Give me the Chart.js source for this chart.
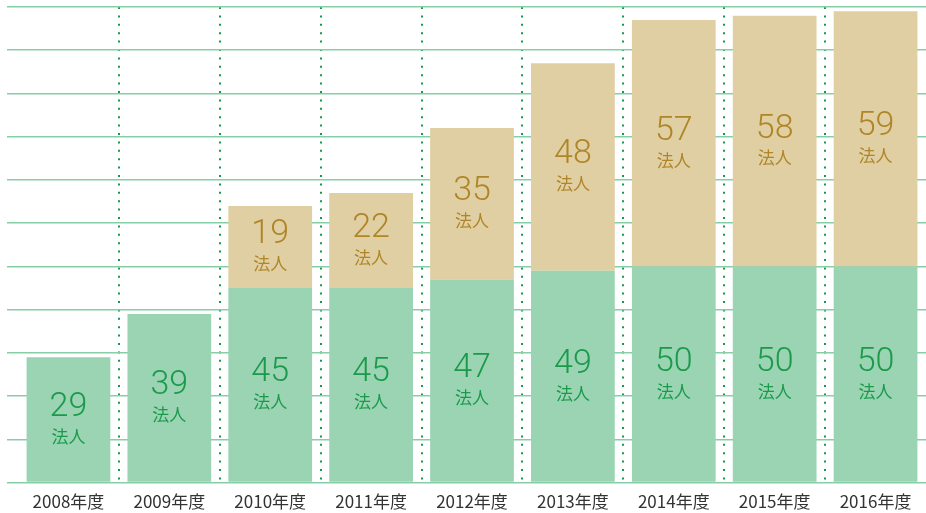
<!DOCTYPE html>
<html>
<head>
<meta charset="utf-8">
<script src="https://cdn.jsdelivr.net/npm/chart.js@4"></script>
<style>
  html, body { margin: 0; padding: 0; background: #fff; }
  #wrap { width: 926px; height: 513px; }
</style>
</head>
<body>
<div id="wrap"><canvas id="chart"></canvas></div>
<script>
// data
const years = ['2008年度', '2009年度', '2010年度', '2011年度', '2012年度', '2013年度', '2014年度', '2015年度', '2016年度'];
const lowerCounts = [29, 39, 45, 45, 47, 49, 50, 50, 50];
const upperCounts = [null, null, 19, 22, 35, 48, 57, 58, 59];
const unitLabel = '法人';
const yMax = 110;
const yStep = 10;

// number + 法人 in the middle of each bar segment
const segmentLabels = {
    id: 'segmentLabels',
    afterDatasetsDraw(chart) {
        const ctx = chart.ctx;
        chart.data.datasets.forEach((ds, di) => {
            const meta = chart.getDatasetMeta(di);
            meta.data.forEach((bar, i) => {
                const v = ds.data[i];
                if (v == null) return;
                const p = bar.getProps(['x', 'y', 'base'], true);
                const mid = (p.y + p.base) / 2;
                ctx.save();
                ctx.fillStyle = ds.labelColor;
                ctx.textAlign = 'center';
                ctx.textBaseline = 'middle';
                ctx.font = '300 34px Roboto, "Noto Sans", sans-serif';
                ctx.fillText(String(v), p.x, mid - 12);
                ctx.font = '17px "Noto Sans CJK JP", sans-serif';
                ctx.fillText(unitLabel, p.x, mid + 17);
                ctx.restore();
            });
        });
    }
};

new Chart(document.getElementById('chart'), {
    type: 'bar',
    data: {
        labels: years,
        datasets: [
            { label: 'lower', data: lowerCounts, backgroundColor: '#9ad4b3', labelColor: '#1b9a4c' },
            { label: 'upper', data: upperCounts, backgroundColor: '#dfcfa2', labelColor: '#b08528' }
        ]
    },
    options: {
        responsive: true,
        maintainAspectRatio: false,
        animation: false,
        layout: { padding: { left: 7, top: 7, right: 0, bottom: -8 } },
        plugins: { legend: { display: false }, tooltip: { enabled: false } },
        datasets: { bar: { barPercentage: 0.83, categoryPercentage: 1 } },
        scales: {
            x: {
                stacked: true,
                border: { display: false, dash: [2, 6.4] },
                grid: {
                    drawTicks: false,
                    lineWidth: 2,
                    color: c => (c.type === 'tick' && c.index > 0) ? '#14994f' : 'rgba(0,0,0,0)'
                },
                ticks: {
                    padding: 9,
                    color: '#333',
                    font: { family: '"Noto Sans CJK JP", sans-serif', size: 17 }
                }
            },
            y: {
                stacked: true,
                min: 0,
                max: yMax,
                border: { display: false },
                grid: { color: '#86cfa6', lineWidth: 1.5, drawTicks: true, tickLength: 11 },
                ticks: { display: false, stepSize: yStep }
            }
        }
    },
    plugins: [segmentLabels]
});
</script>
</body>
</html>
